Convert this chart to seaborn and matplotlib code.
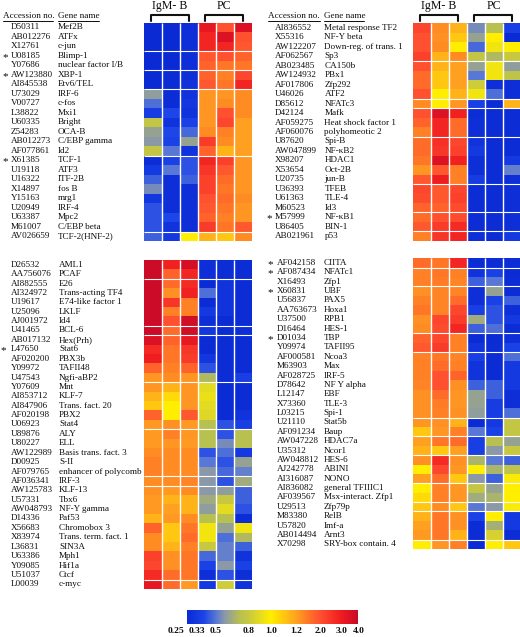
import numpy as np
import matplotlib
matplotlib.use("Agg")
import matplotlib.pyplot as plt
from matplotlib.colors import FuncNorm, LinearSegmentedColormap
from matplotlib.transforms import ScaledTranslation, blended_transform_factory
import seaborn as sns

# ---- panel data: fold change (IgM- B x3, PC x3) ----
acc_1 = ["D50311", "AB012276", "X12761", "U08185", "Y07686", "AW123880", "AI845538", "U73029",
         "V00727", "L38822", "U60335", "Z54283", "AB012273", "AF077861", "X61385", "U19118",
         "U16322", "X14897", "Y15163", "U20949", "U63387", "M61007", "AV026659"]
gene_1 = ["Mef2B", "ATFx", "c-jun", "Blimp-1", "nuclear factor I/B", "XBP-1", "Etv6/TEL", "IRF-6",
          "c-fos", "Mxi1", "Bright", "OCA-B", "C/EBP gamma", "Id2", "TCF-1", "ATF3",
          "ITF-2B", "fos B", "mrg1", "IRF-4", "Mpc2", "C/EBP beta", "TCF-2(HNF-2)"]
vals_1 = [[.25, .25, .28, 3.2, 2.0, 3.5], [.25, .25, .28, 2.8, 3.5, 2.0], [.25, .25, .28, 2.8, 2.8, 1.9],
          [.25, .25, .28, 1.9, 2.0, 1.8], [.25, .25, .28, 1.8, 1.6, 1.6], [.25, .27, .28, 1.8, 1.5, 2.2],
          [.25, .27, .30, 1.9, 1.6, 2.8], [.60, .27, .30, 1.3, 1.3, 1.4], [.48, .27, .32, 1.3, 1.4, 1.4],
          [.35, .40, .30, 1.3, 2.0, 1.4], [.78, .30, .38, 1.3, 2.2, 1.2], [.62, .40, .47, 1.4, 1.5, 1.2],
          [.58, .38, .62, 2.4, 1.4, 1.2], [.78, .50, .30, 1.8, 1.15, 1.2], [.27, .38, .42, 2.8, 2.3, 1.3],
          [.33, .50, .42, 2.5, 1.9, 1.3], [.45, .28, .45, 2.3, 1.7, 1.3], [.55, .28, .28, 2.3, 1.6, 1.3],
          [.32, .28, .28, 2.0, 1.7, 1.4], [.42, .28, .28, 1.9, 1.6, 1.3], [.42, .40, .28, 1.8, 1.5, 1.3],
          [.42, .30, .28, 2.4, 1.6, 1.9], [.45, .33, 1.0, 1.15, 1.1, 1.4]]
breaks_1 = [3, 5, 7, 14, 22]
stars_1 = ["U08185", "AW123880", "X61385"]

acc_2 = ["AI836552", "X55316", "AW122207", "AF062567", "AB023485", "AW124932", "AF017806", "U46026",
         "D85612", "D42124", "AF059275", "AF060076", "U87620", "AW047899", "X98207", "X53654",
         "U20735", "U36393", "U61363", "M60523", "M57999", "U86405", "AB021961"]
gene_2 = ["Metal response TF2", "NF-Y beta", "Down-reg. of trans. 1", "Sp3", "CA150b", "PBx1", "Zfp292",
          "ATF2", "NFATc3", "Mafk", "Heat shock factor 1", "polyhomeotic 2", "Spi-B", "NF-\u03baB2", "HDAC1",
          "Oct-2B", "jun-B", "TFEB", "TLE-4", "Id3", "NF-\u03baB1", "BIN-1", "p53"]
vals_2 = [[2.2, 1.4, 1.15, .55, .72, .36], [2.0, 1.35, 1.1, .62, 1.0, .25], [2.0, 1.4, 1.0, .47, .95, 1.0],
          [2.3, 1.15, 1.4, .78, .70, .80], [2.0, 1.15, 1.2, .62, .95, .60], [1.7, 1.1, 1.2, .50, .95, .75],
          [1.7, 1.1, 1.2, .82, .28, .28], [2.0, 1.0, 1.15, .95, .48, .28], [1.4, 1.0, 1.3, .36, .27, 1.15],
          [2.0, 3.5, 2.9, .27, .27, .27], [1.8, 2.8, 1.7, .28, .27, .27], [1.5, 2.8, 1.7, .28, .27, .27],
          [1.7, 2.6, 2.2, .30, .27, .27], [1.7, 2.5, 2.3, .33, .27, .27], [1.6, 3.5, 2.9, .28, .27, .33],
          [1.3, 1.9, 1.5, .28, .27, .52], [1.9, 3.0, 1.5, .35, .27, .28], [2.2, 1.9, 2.2, .27, .27, .28],
          [2.1, 1.9, 2.3, .27, .27, .28], [1.8, 1.8, 2.1, .27, .27, .28], [1.7, 2.0, 2.1, .27, .27, .28],
          [1.9, 2.4, 2.7, .27, .27, .28], [1.5, 2.5, 2.8, .28, .27, .33]]
breaks_2 = [4, 8, 9, 12, 17, 20, 22]
stars_2 = ["M57999"]

acc_3 = ["D26532", "AA756076", "AI882555", "AI324972", "U19617", "U25096", "AJ001972", "U41465",
         "AB017132", "L47650", "AF020200", "Y09972", "U47543", "Y07609", "AI853712", "AI847906",
         "AF020198", "U06923", "U89876", "U80227", "AW122989", "D00925", "AF079765", "AF036341",
         "AW125783", "U57331", "AW048793", "D14336", "X56683", "X83974", "L36831", "U63386",
         "Y09085", "U51037", "L00039"]
gene_3 = ["AML1", "PCAF", "E26", "Trans-acting TF4", "E74-like factor 1", "LKLF", "Id4", "BCL-6",
          "Hex(Prh)", "Stat6", "PBX3b", "TAFII48", "Ngfi-aBP2", "Mnt", "KLF-7", "Trans. fact. 20",
          "PBX2", "Stat4", "ALY", "ELL", "Basis trans. fact. 3", "S-II", "enhancer of polycomb", "IRF-3",
          "KLF-13", "Tbx6", "NF-Y gamma", "Paf53", "Chromobox 3", "Trans. term. fact. 1", "SIN3A", "Mph1",
          "Hif1a", "Ctcf", "c-myc"]
vals_3 = [[3.9, 2.9, 3.7, .28, .27, .27], [3.9, 1.8, 2.8, .28, .27, .27], [3.9, 1.7, 2.7, .26, .30, .27],
          [3.9, 1.35, 2.9, .48, .30, .27], [3.9, 2.5, 1.5, .26, .30, .27], [3.9, 1.5, 1.5, .33, .30, .27],
          [3.9, 2.0, 3.8, .28, .26, .27], [3.9, 1.7, 3.8, .32, .27, .28], [3.5, 1.8, 3.2, .26, .27, .27],
          [2.7, 1.6, 2.5, .26, .27, .27], [3.0, 1.6, 2.4, .32, .27, .27], [1.8, 1.5, 1.8, .42, .27, .27],
          [1.3, 1.4, 1.3, .70, .27, .36], [1.3, 1.15, 1.3, .90, .26, .27], [1.15, 1.05, 1.3, .93, .26, .27],
          [1.1, 1.0, 1.3, .90, .26, .27], [1.8, 1.0, 1.9, .88, .26, .30], [1.25, 1.35, 1.25, .72, .42, .36],
          [1.25, 1.5, 1.3, .72, .42, .72], [1.25, 1.3, 1.25, .72, .55, .72], [1.4, 1.4, 1.4, .42, .48, .33],
          [1.5, 1.4, 1.4, .50, .42, .62], [1.5, 1.4, 1.4, .58, .47, .52], [1.4, 1.4, 1.45, .58, .42, .65],
          [1.35, 1.25, 1.4, .58, .60, .45], [1.25, 1.15, 1.15, .65, .80, .45], [1.25, 1.2, 1.15, .60, .90, .42],
          [1.15, 1.25, 1.4, .72, .72, .27], [1.8, 1.1, 1.6, .95, .62, .95], [1.4, 1.1, 1.7, .95, .48, .70],
          [1.4, 1.15, 1.5, .80, .52, .45], [2.3, 1.35, 1.6, .47, .52, .30], [2.2, 1.35, 1.6, .38, .58, .38],
          [2.7, 1.7, 1.6, .28, .42, .28], [3.2, 1.7, 1.25, .33, .82, .30]]
breaks_3 = [2, 7, 8, 13, 18, 23, 24, 34]
stars_3 = ["L47650"]

acc_4 = ["AF042158", "AF087434", "X16493", "X60831", "U56837", "AA763673", "U37500", "D16464",
         "D01034", "Y09974", "AF000581", "M63903", "AF028725", "D78642", "L12147", "X73360",
         "L03215", "U21110", "AF091234", "AW047228", "U35312", "AW048812", "AJ242778", "AI316087",
         "AI836082", "AF039567", "U29513", "M83380", "U57820", "AB014494", "X70298"]
gene_4 = ["CIITA", "NFATc1", "Zfp1", "UBF", "PAX5", "Hoxa1", "RPB1", "HES-1",
          "TBP", "TAFII95", "Ncoa3", "Max", "IRF-5", "NF Y alpha", "EBF", "TLE-3",
          "Spi-1", "Stat5b", "Baup", "HDAC7a", "Ncor1", "HES-6", "ABINI", "NONO",
          "general TFIIIC1", "Msx-interact. Zfp1", "Zfp79p", "RelB", "Imf-a", "Arnt3", "SRY-box contain. 4"]
vals_4 = [[1.7, 1.6, 2.8, .27, .27, .27], [1.5, 1.6, 1.5, .30, .38, .26], [1.5, 1.55, 1.45, .45, .50, .27],
          [1.35, 1.45, 1.45, .28, .62, .27], [1.5, 1.45, 1.7, .28, .38, .45], [1.6, 1.45, 2.2, .36, .42, .28],
          [1.35, 2.2, 2.4, .65, .42, .33], [1.4, 2.1, 2.8, .45, .48, .27], [1.8, 2.2, 1.5, .26, .26, .28],
          [1.9, 2.4, 1.5, .30, .27, .38], [1.5, 1.6, 1.45, .36, .27, .48], [1.5, 1.7, 1.5, .30, .26, .33],
          [1.5, 2.0, 1.8, .30, .26, .33], [1.45, 2.0, 1.35, .45, .45, .33], [1.35, 1.7, 1.3, .62, .45, .28],
          [1.35, 1.55, 1.3, .62, .35, .28], [1.35, 1.5, 1.35, .60, .35, .48], [1.3, 1.35, 1.15, .26, .33, .78],
          [1.1, 1.3, 1.5, .50, .38, .78], [1.2, 1.6, 1.7, .36, .72, .62], [1.15, 1.1, 1.2, .36, .58, .80],
          [1.35, 2.7, 1.35, .68, .50, .45], [1.0, 2.2, 1.3, 1.0, .68, .75], [1.2, 1.7, 1.1, .58, .45, .98],
          [1.0, 1.5, 1.3, .78, .62, 1.0], [1.05, 1.5, 1.3, .65, .68, 1.0], [1.1, 1.4, 1.1, .50, .58, .98],
          [1.15, 1.6, 1.35, .38, 1.0, .33], [1.2, 1.6, 1.35, .27, .66, .33], [1.25, 1.6, 1.15, .27, .85, .27],
          [1.0, 1.3, 1.5, .27, 1.0, 1.1]]
breaks_4 = [1, 3, 8, 10, 17, 19, 21, 24, 26, 27, 30]
stars_4 = ["AF042158", "AF087434", "X60831", "D01034"]

cbar_ticks = [0.25, 0.33, 0.5, 0.8, 1.0, 1.2, 2.0, 3.0, 4.0]
cbar_labels = ["0.25", "0.33", "0.5", "0.8", "1.0", "1.2", "2.0", "3.0", "4.0"]

W, H = 520, 637
TEXT = "#0c0c0c"

sns.set_theme(style="white")
plt.rcParams["font.family"] = ["Liberation Serif", "DejaVu Serif"]

# scale on the printed bar is not log, so go through the tick positions
tick_pos = [0, 0.06, 0.17, 0.36, 0.49, 0.64, 0.78, 0.90, 1.0]
norm = FuncNorm((lambda v: np.interp(v, cbar_ticks, tick_pos),
                 lambda p: np.interp(p, tick_pos, cbar_ticks)), vmin=0.25, vmax=4.0)
cmap = LinearSegmentedColormap.from_list("chip", [
    (0, "#0a2ad4"), (0.10, "#1c44e8"), (0.17, "#5a78d4"), (0.22, "#8a98a8"), (0.31, "#b8c050"),
    (0.36, "#c8c840"), (0.49, "#ffee00"), (0.64, "#ffa020"), (0.72, "#ff7028"), (0.78, "#ff5030"),
    (0.90, "#f01c20"), (1, "#c80a28")])

fig = plt.figure(figsize=(W / 100, H / 100), dpi=100)
cax = fig.add_axes([186.7 / W, 1 - 624 / H, 171.6 / W, 14 / H])


def px_axes(left, top, width, height):
    return fig.add_axes([left / W, 1 - (top + height) / H, width / W, height / H])


def draw_panel(box, acc, gene, vals, breaks, stars, x_acc, x_gene, x_star, first=False):
    ax = px_axes(*box)
    sns.heatmap(np.array(vals), ax=ax, cmap=cmap, norm=norm, cbar=first, cbar_ax=cax if first else None,
                cbar_kws={"orientation": "horizontal"}, xticklabels=False, yticklabels=False)
    ax.vlines(range(1, 6), 0, len(acc), color="white", lw=1.0)
    ax.hlines(breaks, 0, 6, color="white", lw=0.8)
    trans = blended_transform_factory(fig.transFigure, ax.transData)
    for i, (a, g) in enumerate(zip(acc, gene)):
        ax.text(x_acc / W, i + 0.5, a, transform=trans, va="center", fontsize=6.6, color=TEXT, clip_on=False)
        ax.text(x_gene / W, i + 0.5, g, transform=trans, va="center", fontsize=6.6, color=TEXT, clip_on=False)
        if a in stars:
            ax.text(x_star / W, i + 0.65, "*", transform=trans, ha="center", va="center", fontsize=8,
                    color=TEXT, clip_on=False)
    return ax


ax1 = draw_panel((143.5, 22.7, 108, 218.3), acc_1, gene_1, vals_1, breaks_1, stars_1, 10.5, 58, 5, first=True)
ax2 = draw_panel((412.7, 23.3, 108, 217.4), acc_2, gene_2, vals_2, breaks_2, stars_2, 275, 324.5, 269)
ax3 = draw_panel((143.5, 260, 108, 329), acc_3, gene_3, vals_3, breaks_3, stars_3, 11, 59, 3.5)
ax4 = draw_panel((412.7, 258.3, 108, 290.7), acc_4, gene_4, vals_4, breaks_4, stars_4, 276.5, 323.5, 270)


def draw_header(x_acc, acc_end, x_gene, gene_end):
    fig.text(x_acc / W, 1 - 16 / H, "Accession no.", fontsize=6.6, color=TEXT, va="center")
    fig.text(x_gene / W, 1 - 16 / H, "Gene name", fontsize=6.6, color=TEXT, va="center")
    for a, b in [(x_acc, acc_end), (x_gene, gene_end)]:
        fig.add_artist(plt.Line2D([a / W, b / W], [1 - 20.5 / H] * 2, color=TEXT, lw=0.7))


def draw_bracket(left, right, label, mid):
    fig.add_artist(plt.Line2D([left / W, left / W, right / W, right / W],
                              [1 - 21 / H, 1 - 15 / H, 1 - 15 / H, 1 - 21 / H], color="#111111", lw=1.5))
    fig.text(mid / W, 1 - 6 / H, label, fontsize=8.6, color=TEXT, ha="center", va="center")


draw_header(3, 53, 58, 99)
draw_header(268, 320, 324, 364)
draw_bracket(151, 189, "IgM- B", 170)
draw_bracket(205, 243, "PC", 224)
draw_bracket(420.3, 458, "IgM- B", 439)
draw_bracket(474, 512.3, "PC", 494)

# ---- colour bar ----
cbar = ax1.collections[0].colorbar
cbar.set_ticks(cbar_ticks, labels=cbar_labels)
cbar.minorticks_off()
cax.tick_params(axis="x", length=0, pad=2.5, labelsize=6.8, labelcolor=TEXT)
for lab in cax.get_xticklabels():
    lab.set_fontweight("bold")
first_label = cax.get_xticklabels()[0]
first_label.set_transform(first_label.get_transform() + ScaledTranslation(-11 / 100, 0, fig.dpi_scale_trans))

fig.savefig("out.png", dpi=100)
